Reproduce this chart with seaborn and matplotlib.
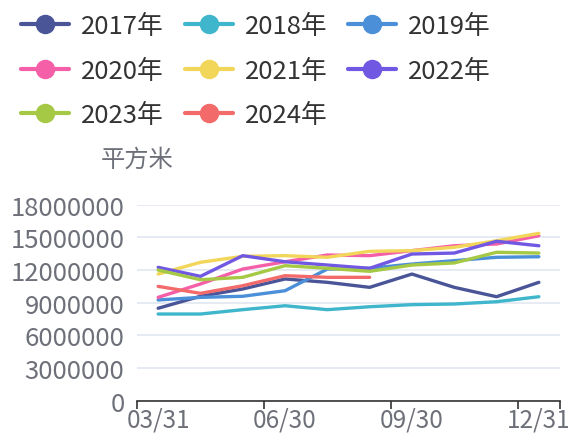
import matplotlib
matplotlib.use("Agg")
import matplotlib.pyplot as plt
from matplotlib.lines import Line2D
from matplotlib.ticker import FixedLocator, MultipleLocator
import seaborn as sns
import pandas as pd

# 数据
dates = ['03/31', '04/30', '05/31', '06/30', '07/31', '08/31', '09/30', '10/31', '11/30', '12/31']
years = ['2017年', '2018年', '2019年', '2020年', '2021年', '2022年', '2023年', '2024年']
colors = ['#4a5598', '#3fb6cc', '#4a8fd8', '#f55fa8', '#f2d65a', '#7158e2', '#a6c945', '#f36a6a']

v2017 = [8490000, 9590000, 10260000, 11180000, 10870000, 10410000, 11630000, 10410000, 9550000, 10870000]
v2018 = [7960000, 7960000, 8360000, 8720000, 8360000, 8630000, 8820000, 8880000, 9090000, 9550000]
v2019 = [9250000, 9490000, 9590000, 10100000, 12090000, 12160000, 12550000, 12860000, 13170000, 13220000]
v2020 = [9490000, 10720000, 12090000, 12760000, 13380000, 13320000, 13780000, 14230000, 14390000, 15150000]
v2021 = [11630000, 12710000, 13260000, 13320000, 13170000, 13720000, 13780000, 14090000, 14690000, 15370000]
v2022 = [12250000, 11420000, 13320000, 12760000, 12460000, 12160000, 13470000, 13560000, 14640000, 14230000]
v2023 = [12000000, 11110000, 11330000, 12400000, 12160000, 11880000, 12460000, 12650000, 13630000, 13560000]
v2024 = [10500000, 9860000, 10560000, 11480000, 11330000, 11330000]

series = [v2017, v2018, v2019, v2020, v2021, v2022, v2023, v2024]

rows = []
for year, vals in zip(years, series):
    for i, v in enumerate(vals):
        rows.append({'year': year, 'idx': i, 'value': v})
df = pd.DataFrame(rows)

sns.set_theme(style="white")
plt.rcParams['font.family'] = ['Noto Sans CJK SC', 'DejaVu Sans']

fig = plt.figure(figsize=(5.72, 4.39), dpi=100)
ax = fig.add_axes([137 / 572, 1 - 401.7 / 439, (560 - 137) / 572, (401.7 - 205.7) / 439])

sns.lineplot(data=df, x='idx', y='value', hue='year', hue_order=years,
             palette=colors, linewidth=2.4, ax=ax, legend=False)

ax.set_xlim(-0.5, 9.5)
ax.set_ylim(0, 18000000)
ax.yaxis.set_major_locator(MultipleLocator(3000000))
ax.set_yticklabels([f"{int(t)}" for t in ax.get_yticks()])
ax.grid(axis='y', color='#e0e6f1', lw=1.2)
ax.set_axisbelow(True)

# x 轴: 标签在类别中心, 刻度在边界
ax.xaxis.set_major_locator(FixedLocator([0, 3, 6, 9]))
ax.set_xticklabels([dates[0], dates[3], dates[6], dates[9]])
ax.xaxis.set_minor_locator(FixedLocator([-0.5, 2.5, 5.5, 8.5, 9.5]))
ax.tick_params(axis='x', which='major', length=0, pad=4, labelsize=17.5, labelcolor='#6e7079')
ax.tick_params(axis='x', which='minor', length=6, width=1.2, color='#333333', direction='out', bottom=True)
ax.tick_params(axis='y', length=0, pad=9, labelsize=18.5, labelcolor='#6e7079')
ax.set_xlabel('')
ax.set_ylabel('')

for s in ['top', 'right', 'left']:
    ax.spines[s].set_visible(False)
ax.spines['bottom'].set_color('#333333')
ax.spines['bottom'].set_linewidth(1.2)

fig.text(137 / 572, 1 - 160 / 439, '平方米', ha='center', va='center', fontsize=17.5, color='#6e7079')

handles = [Line2D([0], [0], color=c, lw=3, marker='o', markersize=13) for c in colors]
order = [0, 3, 6, 1, 4, 7, 2, 5]
fig.legend([handles[i] for i in order], [years[i] for i in order],
           loc='upper left', bbox_to_anchor=(-2 / 572, 1 + 9 / 439), ncol=3,
           frameon=False, fontsize=18.5, handlelength=1.87, handletextpad=0.47,
           columnspacing=0.8, labelspacing=0.72, labelcolor='#333333')

fig.savefig('out.png', dpi=100)
